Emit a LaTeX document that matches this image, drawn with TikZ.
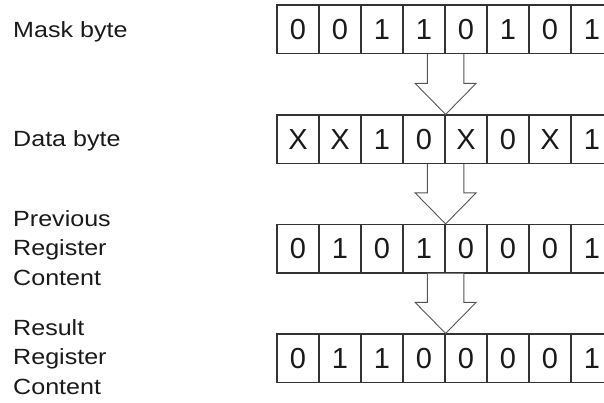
\documentclass[tikz,border=0pt]{standalone}
\usepackage{fontspec}
\setmainfont{Liberation Sans}
\usetikzlibrary{calc}
\definecolor{ink}{HTML}{1A1A1A}
\definecolor{cellline}{HTML}{333333}
\definecolor{arrline}{HTML}{555555}
\newcommand{\sx}[1]{\scalebox{1.14}[1]{#1}}
\tikzset{
  cell/.style={draw=cellline, line width=1.2pt, minimum width=42pt, minimum height=48.5pt,
    inner sep=0pt, text=ink, font=\fontsize{29}{32}\selectfont},
  lbl/.style={anchor=base west, inner sep=0pt, align=left, text=ink,
    font=\fontsize{22}{29.5}\selectfont},
  hollow/.style={draw=arrline, line width=0.9pt, fill=white, line join=miter}
}
\begin{document}
\begin{tikzpicture}[x=1pt,y=-1pt]
\useasboundingbox (0,0) rectangle (604,403);
\clip (0,0) rectangle (604,403);
% rows of cells
\foreach \r/\ytop/\bits in {1/5/{0,0,1,1,0,1,0,1},2/115/{X,X,1,0,X,0,X,1},3/224.5/{0,1,0,1,0,0,0,1},4/334/{0,1,1,0,0,0,0,1}}{
  \foreach \b [count=\c] in \bits {
    \node[cell] (r\r c\c) at ({277+42*(\c-1)+21},{\ytop+24.25}) {\b};
  }
}
% labels (base anchor = baseline of the last line)
\node[lbl] (lmask) at (13,37.3) {\sx{Mask byte}};
\node[lbl] (ldata) at (13,146.7) {\sx{Data byte}};
\node[lbl] (lprev) at (13,285) {\sx{Previous}\\\sx{Register}\\\sx{Content}};
\node[lbl] (lres) at (13,394) {\sx{Result}\\\sx{Register}\\\sx{Content}};
% hollow arrows between rows
\foreach \a/\b in {1/2,2/3,3/4}{
  \draw[hollow] ($(r\a c4.south east)+(-18.3,0)$) -- ($(r\b c4.north east)+(-18.3,-31)$)
    -- ($(r\b c4.north east)+(-30.5,-31)$) -- (r\b c4.north east)
    -- ($(r\b c4.north east)+(30.5,-31)$) -- ($(r\b c4.north east)+(18.3,-31)$)
    -- ($(r\a c4.south east)+(18.3,0)$);
}
\end{tikzpicture}
\end{document}
